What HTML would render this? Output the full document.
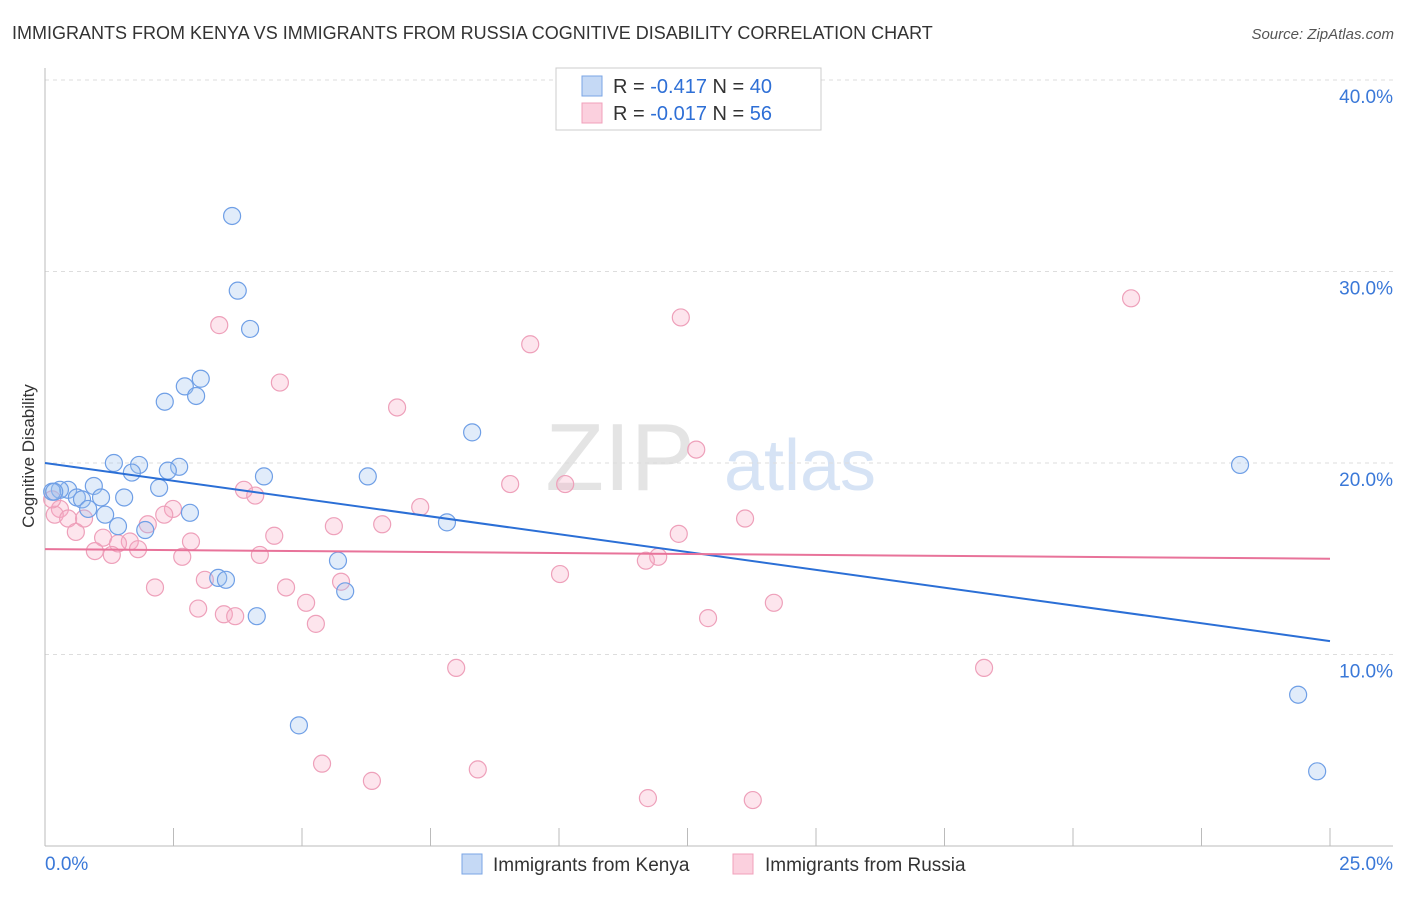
<!DOCTYPE html>
<html><head><meta charset="utf-8"><style>
body{margin:0;background:#fff;font-family:"Liberation Sans",sans-serif}
svg text{font-family:"Liberation Sans",sans-serif}
</style></head><body>
<svg id="c" width="1406" height="892">
<text x="12" y="39" font-size="18" fill="#333">IMMIGRANTS FROM KENYA VS IMMIGRANTS FROM RUSSIA COGNITIVE DISABILITY CORRELATION CHART</text>
<text x="1394" y="39" font-size="15" fill="#555" font-style="italic" text-anchor="end">Source: ZipAtlas.com</text>
<text x="620" y="490" font-size="96" fill="#e4e4e4" font-family="Liberation Serif" text-anchor="middle">ZIP</text>
<text x="800" y="490" font-size="72" fill="#d6e3f5" text-anchor="middle">atlas</text>
<text x="34" y="456" font-size="17" fill="#333" text-anchor="middle" transform="rotate(-90 34 456)">Cognitive Disability</text>
<g id="grid"></g><g id="pts"></g><g id="lines"></g>
<g>
<rect x="556" y="68" width="265" height="62" fill="#fff" stroke="#ccc"/>
<rect x="582" y="76" width="20" height="20" fill="#c5d9f5" stroke="#7aa5e5"/>
<rect x="582" y="103" width="20" height="20" fill="#fbd0de" stroke="#f0a0bb"/>
<text x="613" y="93" font-size="20" fill="#333">R = <tspan fill="#2e6fd6">-0.417</tspan>   N = <tspan fill="#2e6fd6">40</tspan></text>
<text x="613" y="120" font-size="20" fill="#333">R = <tspan fill="#2e6fd6">-0.017</tspan>   N = <tspan fill="#2e6fd6">56</tspan></text>
</g>
<g>
<rect x="462" y="854" width="20" height="20" fill="#c5d9f5" stroke="#7aa5e5"/>
<text x="493" y="871" font-size="19" fill="#333">Immigrants from Kenya</text>
<rect x="733" y="854" width="20" height="20" fill="#fbd0de" stroke="#f0a0bb"/>
<text x="765" y="871" font-size="19" fill="#333">Immigrants from Russia</text>
</g>
</svg>
<script>
const yTicks=[10,20,30,40];
const xTickLabels=["0.0%","25.0%"];
const kenyaX=[3.64,3.75,3.99,3.03,2.72,2.94,2.33,8.31,1.34,1.83,2.61,2.39,1.69,4.26,6.28,0.95,0.45,0.29,0.14,2.22,1.09,1.54,0.62,0.72,0.84,2.82,1.17,1.42,1.95,7.82,5.70,5.84,3.37,3.52,4.12,4.94,23.25,24.38,24.75,0.18];
const kenyaY=[32.9,29.0,27.0,24.4,24.0,23.5,23.2,21.6,20.0,19.9,19.8,19.6,19.5,19.3,19.3,18.8,18.6,18.6,18.5,18.7,18.2,18.2,18.2,18.1,17.6,17.4,17.3,16.7,16.5,16.9,14.9,13.3,14.0,13.9,12.0,6.3,19.9,7.9,3.9,18.5];
const russiaX=[21.13,12.37,3.39,9.44,4.57,6.85,12.67,10.12,3.87,4.09,9.05,7.30,2.49,2.32,0.29,0.19,0.45,0.76,2.00,5.62,6.56,13.62,12.33,0.60,4.46,1.13,1.65,2.84,1.42,1.81,0.97,1.30,4.18,2.67,11.93,11.69,10.02,3.11,5.76,4.69,2.14,5.08,14.18,2.98,3.48,3.70,5.27,12.90,8.00,18.27,5.39,8.42,6.36,11.73,13.77,0.14];
const russiaY=[28.6,27.6,27.2,26.2,24.2,22.9,20.7,18.9,18.6,18.3,18.9,17.7,17.6,17.3,17.6,17.3,17.1,17.1,16.8,16.7,16.8,17.1,16.3,16.4,16.2,16.1,15.9,15.9,15.8,15.5,15.4,15.2,15.2,15.1,15.1,14.9,14.2,13.9,13.8,13.5,13.5,12.7,12.7,12.4,12.1,12.0,11.6,11.9,9.3,9.3,4.3,4.0,3.4,2.5,2.4,18.1];
const kenyaTrend=[20.0,10.7];
const russiaTrend=[15.5,15.0];
const X=v=>45+v/25*1285, Y=v=>80+(40-v)*19.15;
const NS="http://www.w3.org/2000/svg";
function mk(t,a,p){const e=document.createElementNS(NS,t);for(const k in a)e.setAttribute(k,a[k]);p.appendChild(e);return e;}
const g=document.getElementById('grid');
yTicks.forEach(t=>{
 const l=mk('line',{x1:45,x2:1393,y1:Y(t),y2:Y(t),stroke:'#ddd','stroke-dasharray':'4 4'},g);
 
 
 const tx=mk('text',{x:1393,y:Y(t)+23,'font-size':19,fill:'#3a78d8','text-anchor':'end'},g);
 tx.textContent=t.toFixed(1)+'%';
 
 
});
const ax=mk('line',{x1:45,x2:45,y1:68,y2:846,stroke:'#bbb'},g);


const bx=mk('line',{x1:45,x2:1393,y1:846,y2:846,stroke:'#bbb'},g);


for(let i=0;i<=10;i++){
 const t=mk('line',{x1:X(i*2.5),x2:X(i*2.5),y1:828,y2:846,stroke:'#bbb'},g);
 
 
}
[[0,'start',45],[25,'end',1393]].forEach((d,i)=>{
 const t=mk('text',{x:d[2],y:870,'font-size':19,fill:'#3a78d8','text-anchor':d[1]},g);
 t.textContent=xTickLabels[i];
 
 
});
const p=document.getElementById('pts');
function series(xs,ys,fill,stroke,name){
 xs.forEach((x,i)=>{
  const c=mk('circle',{cx:X(x),cy:Y(ys[i]),r:8.5,fill:fill,'fill-opacity':0.3,stroke:stroke,'stroke-width':1.2},p);
  
  
 });
}
series(russiaX,russiaY,'#f7a8c2','#eea0ba','point-russia');
series(kenyaX,kenyaY,'#9cc0f0','#6f9fe6','point-kenya');
const L=document.getElementById('lines');
const lk=mk('line',{x1:X(0),x2:X(25),y1:Y(kenyaTrend[0]),y2:Y(kenyaTrend[1]),stroke:'#2b6fd6','stroke-width':2},L);


const lr=mk('line',{x1:X(0),x2:X(25),y1:Y(russiaTrend[0]),y2:Y(russiaTrend[1]),stroke:'#e8739a','stroke-width':2},L);


</script>
</body></html>
